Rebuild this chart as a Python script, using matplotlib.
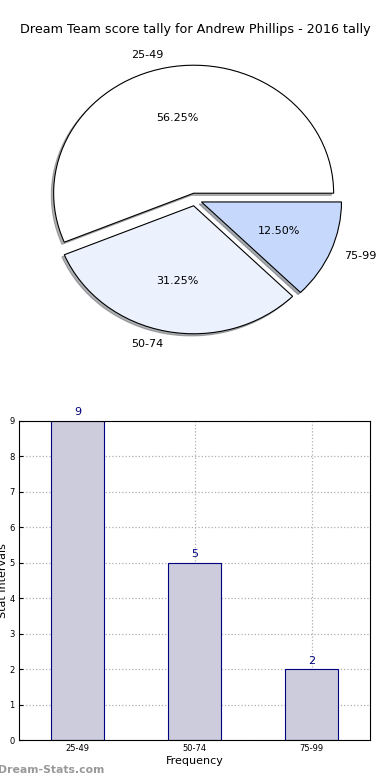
import matplotlib
matplotlib.use('Agg')
import matplotlib.pyplot as plt

# data
ranges = ['25-49', '50-74', '75-99']
counts = [9, 5, 2]
pie_colors = ['#ffffff', '#ebf2fe', '#c6d9fd']
explode = [0.05, 0.05, 0.05]

fig = plt.figure(figsize=(3.9, 7.8), dpi=100)

# pie chart
ax1 = fig.add_axes([20 / 390, 1 - 359.5 / 780, 350 / 390, 320 / 780])
wedges, texts, autotexts = ax1.pie(counts, labels=ranges, colors=pie_colors, explode=explode,
                                   autopct='%1.2f%%', startangle=0,
                                   shadow={'ox': -0.012, 'oy': -0.012, 'shade': 0.6},
                                   wedgeprops={'edgecolor': 'black', 'linewidth': 0.8},
                                   textprops={'fontsize': 8})
ax1.set_aspect('auto')
ax1.set_xlim(-1.25, 1.25)
ax1.set_ylim(-1.25, 1.25)
ax1.axis('off')
fig.text(0.5, 1 - 30 / 780, 'Dream Team score tally for Andrew Phillips - 2016 tally',
         ha='center', va='center', fontsize=9.2)

# bar chart
ax2 = fig.add_axes([19 / 390, 1 - 740 / 780, 351 / 390, 319 / 780])
x = range(len(ranges))
bars = ax2.bar(x, counts, width=0.45, color='#ccccdd', edgecolor='navy', linewidth=0.8)
for xi, c in zip(x, counts):
    ax2.text(xi, c + 0.1, str(c), ha='center', va='bottom', color='navy', fontsize=8)
ax2.set_xlim(-0.5, 2.5)
ax2.set_ylim(0, 9)
ax2.set_xticks(list(x))
ax2.set_xticklabels(ranges)
ax2.set_yticks(range(0, 10))
ax2.tick_params(labelsize=6, length=3, direction='in', pad=3)
ax2.grid(True, linestyle=':', color='#b0b0b0', linewidth=0.9)
ax2.set_axisbelow(True)
ax2.set_xlabel('Frequency', fontsize=8, labelpad=2)
ax2.set_ylabel('Stat Intervals', fontsize=8)
ax2.yaxis.set_label_coords(-11 / 351, 0.5)

fig.text(-0.005, 1 - 770 / 780, 'Dream-Stats.com', ha='left', va='center',
         fontsize=7.8, color='#999999', fontweight='bold')

fig.savefig('out.png', dpi=100)
